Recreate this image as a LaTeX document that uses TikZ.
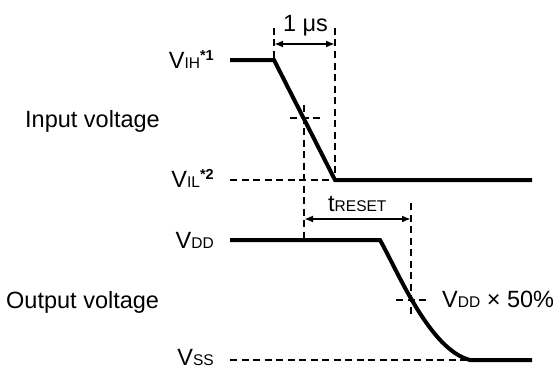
\documentclass[tikz,border=0pt]{standalone}
\usepackage{fontspec}
\setmainfont{Liberation Sans}
\usetikzlibrary{arrows.meta}
\newcommand\mainsz{\fontsize{23.5}{26}\selectfont}
\newcommand\lsub[1]{{\fontsize{15.5}{17}\selectfont #1}}
\newcommand\lnote[1]{\raisebox{8pt}{\fontsize{14.5}{15}\selectfont\bfseries #1}}
\tikzset{
  sig/.style={line width=4pt, line join=miter},
  dsh/.style={line width=1.7pt, dash pattern=on 7pt off 4.5pt},
  dim/.style={line width=1.8pt, {Latex[length=9pt,width=7pt]}-{Latex[length=9pt,width=7pt]}},
  lbl/.style={inner sep=0pt, font=\mainsz},
}
\begin{document}
\begin{tikzpicture}[x=1pt,y=-1pt]
\useasboundingbox (0,0) rectangle (556,369);
% key points
\coordinate (ih0) at (230,60);
\coordinate (ih1) at (274,60);
\coordinate (il0) at (335,180);
\coordinate (il1) at (532,180);
\coordinate (dd0) at (230,240);
\coordinate (dd1) at (380,240);
\coordinate (ss0) at (470,360);
\coordinate (ss1) at (532,360);
% dashed references
\draw[dsh] (230,180) -- (il0);
\draw[dsh] (230,360) -- (ss0);
\draw[dsh] (274,28) -- (ih1);
\draw[dsh] (335,28) -- (il0);
\draw[dsh] (290,118) -- (320,118);
\draw[dsh] (304,105) -- (304,240);
\draw[dsh] (411,203) -- (411,316);
\draw[dsh] (396,300) -- (426,300);
% signals
\draw[sig] (ih0) -- (ih1) -- (il0) -- (il1);
\draw[sig] (dd0) -- (dd1) .. controls (398,272) and (430,350) .. (ss0) -- (ss1);
% dimension arrows
\coordinate (a1) at (274,44);
\coordinate (a2) at (335,44);
\draw[dim] (a1) -- (a2);
\coordinate (b1) at (304,219);
\coordinate (b2) at (411,219);
\draw[dim] (b1) -- (b2);
% labels
\node[lbl, anchor=base] (us) at (305.5,32) {1 μs};
\node[lbl, anchor=base west] (tr) at (328,211) {t\lsub{RESET}};
\node[lbl, anchor=base west] (half) at (442,307) {V\lsub{DD} × 50\%};
\node[lbl, anchor=base east] (vih) at (214,68) {V\lsub{IH}\lnote{*1}};
\node[lbl, anchor=base east] (vil) at (214,187.5) {V\lsub{IL}\lnote{*2}};
\node[lbl, anchor=base east] (vdd) at (214,248) {V\lsub{DD}};
\node[lbl, anchor=base east] (vss) at (214,365.5) {V\lsub{SS}};
\node[lbl, anchor=base west] (inp) at (25,127) {Input voltage};
\node[lbl, anchor=base west] (outp) at (6,308) {Output voltage};
\end{tikzpicture}
\end{document}
